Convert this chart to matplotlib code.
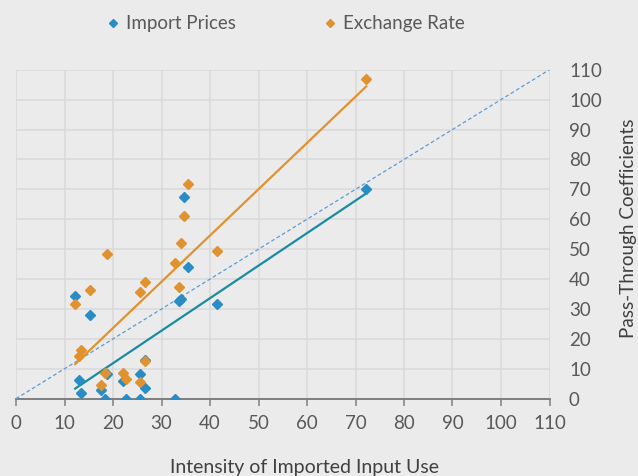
import numpy as np
import matplotlib
matplotlib.use("Agg")
import matplotlib.pyplot as plt

plt.rcParams['font.family'] = ['Lato', 'DejaVu Sans']

# intensity of imported input use (shared by both series)
intensity = [12.2, 13.0, 13.4, 15.3, 17.5, 18.4, 18.8, 22.1, 22.6, 25.6,
             25.6, 26.5, 26.7, 32.7, 33.7, 34.0, 34.6, 35.4, 41.5, 72.2]
import_prices = [34.4, 6.3, 2.0, 28.0, 2.8, 0.0, 8.2, 5.8, 0.0, 8.2,
                 0.0, 12.9, 3.5, 0.0, 32.5, 33.2, 67.6, 44.2, 31.8, 70.0]
exchange_rate = [31.6, 14.3, 16.2, 36.3, 4.6, 8.5, 48.4, 8.5, 6.6, 5.5,
                 35.6, 12.7, 39.1, 45.3, 37.5, 52.0, 61.1, 71.8, 49.5, 106.8]
ticks = list(range(0, 111, 10))

bg = '#ebebeb'
txt = '#595959'
blue_pt = '#2a8cc4'
blue_ln = '#1a8ca0'
orange = '#e0922f'

fig = plt.figure(figsize=(6.38, 4.76), dpi=100, facecolor=bg)
ax = fig.add_axes([16 / 638, 77.3 / 476, 533.5 / 638, 329 / 476])
ax.set_facecolor(bg)

x = np.array(intensity)

# 45 degree reference line
ax.plot([0, 110], [0, 110], color='#5b9bd5', lw=0.9, ls=(0, (3, 2)), zorder=2)

# linear trendlines
for y, c in [(import_prices, blue_ln), (exchange_rate, orange)]:
    b1, b0 = np.polyfit(x, np.array(y), 1)
    xs = np.array([x.min(), x.max()])
    ax.plot(xs, b1 * xs + b0, color=c, lw=1.6, zorder=3)

ax.plot(x, import_prices, 'D', ms=4.6, color=blue_pt, mec=blue_pt, ls='none',
        label='Import Prices', zorder=4)
ax.plot(x, exchange_rate, 'D', ms=4.6, color=orange, mec=orange, ls='none',
        label='Exchange Rate', zorder=4)

ax.set_xlim(0, 110)
ax.set_ylim(0, 110)
ax.set_xticks(ticks)
ax.set_yticks(ticks)
ax.grid(True, color='#d9d9d9', lw=1.1)
ax.set_axisbelow(True)

for s in ['top', 'left', 'right']:
    ax.spines[s].set_visible(False)
ax.spines['bottom'].set_color('#7f7f7f')
ax.spines['bottom'].set_linewidth(1.4)
ax.spines['bottom'].set_zorder(1)

ax.yaxis.tick_right()
ax.yaxis.set_label_position('right')
ax.tick_params(axis='x', direction='out', length=5, width=1.1, color='#7f7f7f',
               pad=7, labelsize=13.5, labelcolor=txt)
ax.tick_params(axis='y', length=0, pad=14, labelsize=13.5, labelcolor=txt)

ax.set_xlabel('Intensity of Imported Input Use', fontsize=14, color='#404040')
ax.xaxis.set_label_coords(0.54, -0.184)
ax.set_ylabel('Pass-Through Coefficients', fontsize=13.6, color='#404040')
ax.yaxis.set_label_coords(1.132, 0.518)

fig.legend(loc='center', bbox_to_anchor=(0.447, 0.95), ncol=2, frameon=False,
           fontsize=13.5, labelcolor=txt, handletextpad=0.3, columnspacing=4.6,
           handlelength=0.8, markerscale=0.85)

fig.savefig('out.png', dpi=100, facecolor=bg)
